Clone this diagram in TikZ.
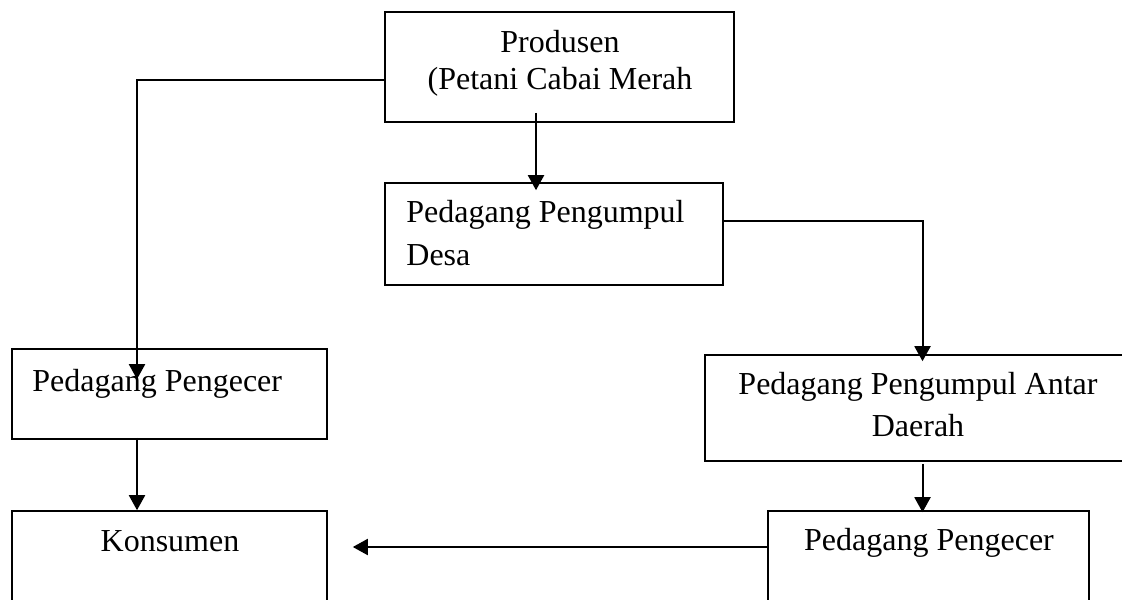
\documentclass[tikz,border=0pt]{standalone}
\usepackage{fontspec}
\setmainfont{Liberation Serif}
\usetikzlibrary{arrows.meta,calc}
\begin{document}
\begin{tikzpicture}[x=0.5pt,y=-0.5pt,
  box/.style={draw, line width=0.8pt, inner sep=0pt, rectangle},
  txt/.style={inner sep=0pt, font=\fontsize{16pt}{18pt}\selectfont},
  arr/.style={line width=1pt, -{Triangle[length=7.5pt,width=8pt]}}]
\clip (0,0) rectangle (1122,599);
\fill[white] (0,0) rectangle (1122,599);
% boxes
\node[box, minimum width=174.5pt, minimum height=55pt] (prod) at (559.5,67) {};
\node[box, minimum width=169pt, minimum height=51pt] (desa) at (554,234) {};
\node[box, minimum width=157.5pt, minimum height=45pt] (pengL) at (169.5,394) {};
\node[box, minimum width=217.5pt, minimum height=53pt] (antar) at (922.5,408) {};
\node[box, minimum width=157.5pt, minimum height=54.5pt] (kons) at (169.5,565.5) {};
\node[box, minimum width=160.5pt, minimum height=54.5pt] (pengR) at (928.5,565.5) {};
% texts
\node[txt, anchor=base] (t1) at (560,53) {Produsen};
\node[txt, anchor=base] (t2) at (560,90) {(Petani Cabai Merah};
\node[txt, anchor=base west] (t3) at (406,222) {Pedagang Pengumpul};
\node[txt, anchor=base west] (t4) at (406,265) {Desa};
\node[txt, anchor=base west] (t5) at (32,391) {Pedagang Pengecer};
\node[txt, anchor=base] (t6) at (918,394) {Pedagang Pengumpul Antar};
\node[txt, anchor=base] (t7) at (918,436) {Daerah};
\node[txt, anchor=base] (t8) at (170,551) {Konsumen};
\node[txt, anchor=base] (t9) at (929,550) {Pedagang Pengecer};
% connectors
\coordinate (a1) at ($(prod.south)+(-23.5,-10)$);
\draw[arr, shorten >=-4pt] (a1) -- (a1 |- desa.north);
\draw[arr, shorten >=-15.5pt] ($(prod.west)+(0,13)$) -| ($(pengL.north)+(-32.5,0)$);
\draw[arr, shorten >=-3.5pt] ($(desa.east)+(0,-13)$) -| ($(antar.north)+(0,0)$);
\draw[arr] ($(pengL.south)+(-32.5,-2)$) -- ($(kons.north)+(-32.5,0)$);
\coordinate (a5) at ($(antar.south)+(0,2)$);
\draw[arr, shorten >=-1pt] (a5) -- (a5 |- pengR.north);
\draw[arr, shorten >=12.5pt] ($(pengR.west)+(0,-18.5)$) -- ($(kons.east)+(0,-18.5)$);
\end{tikzpicture}
\end{document}
